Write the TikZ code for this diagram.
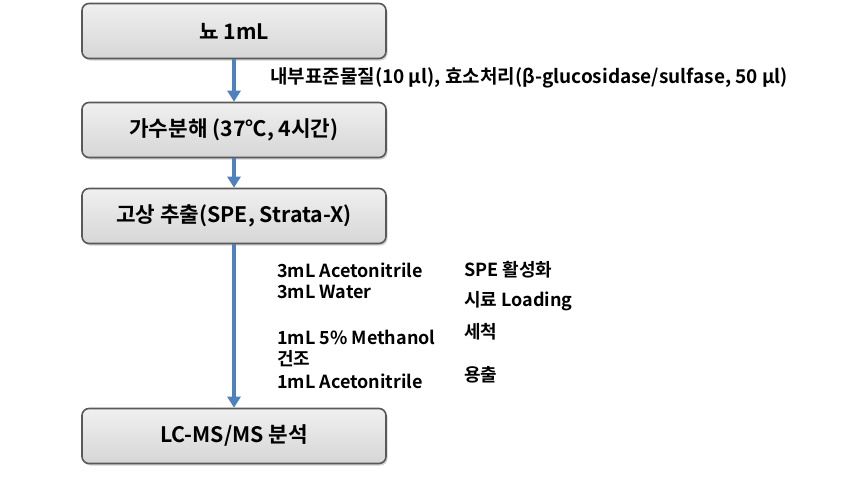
\documentclass[tikz,border=0pt]{standalone}
\usepackage{fontspec}
\setmainfont{Noto Sans CJK KR}[BoldFont={Noto Sans CJK KR Bold}]
\usetikzlibrary{arrows.meta,positioning,shadows}
\definecolor{flowblue}{HTML}{4F81BD}
\definecolor{boxedge}{HTML}{595959}
\tikzset{
  stepbox/.style={draw=boxedge, line width=1.6pt, rounded corners=7pt,
    top color=white!94!black, bottom color=white!84!black,
    minimum width=304pt, minimum height=55pt, align=center,
    font=\fontsize{21.3}{24}\selectfont\bfseries,
    drop shadow={shadow xshift=1.5pt, shadow yshift=-2pt, opacity=.35}},
  flow/.style={-{Triangle[length=11pt,width=13pt]}, draw=flowblue, line width=3.5pt},
  note/.style={anchor=west, inner sep=0pt, font=\fontsize{18}{21}\selectfont\bfseries}
}
\begin{document}
\begin{tikzpicture}[x=1pt,y=-1pt]
\useasboundingbox (0,0) rectangle (864,499);

% main steps
\node[stepbox] (urine) at (234,31) {뇨 1mL};
\node[stepbox] (hydro) at (234,130) {가수분해 (37℃, 4시간)};
\node[stepbox] (spe) at (234,216) {고상 추출(SPE, Strata-X)};
\node[stepbox] (lcms) at (234,436) {LC-MS/MS 분석};

% arrows
\draw[flow] (urine) -- (hydro);
\draw[flow] (hydro) -- (spe);
\draw[flow] (spe) -- (lcms);

% reagents
\node[note, font=\fontsize{19}{21}\selectfont\bfseries] (enzyme) at (270,78) {내부표준물질(10 μl), 효소처리(β-glucosidase/sulfase, 50 μl)};

% SPE conditions
\node[note] (acn1) at (277,270) {3mL Acetonitrile};
\node[note] (water) at (277,292) {3mL Water};
\node[note] (meoh) at (277,337) {1mL 5\% Methanol};
\node[note] (dry) at (277,359) {건조};
\node[note] (acn2) at (277,381) {1mL Acetonitrile};

\node[note] (activ) at (464,270) {SPE 활성화};
\node[note] (load) at (464,301) {시료 Loading};
\node[note] (wash) at (464,332) {세척};
\node[note] (elute) at (464,375) {용출};
\end{tikzpicture}
\end{document}
